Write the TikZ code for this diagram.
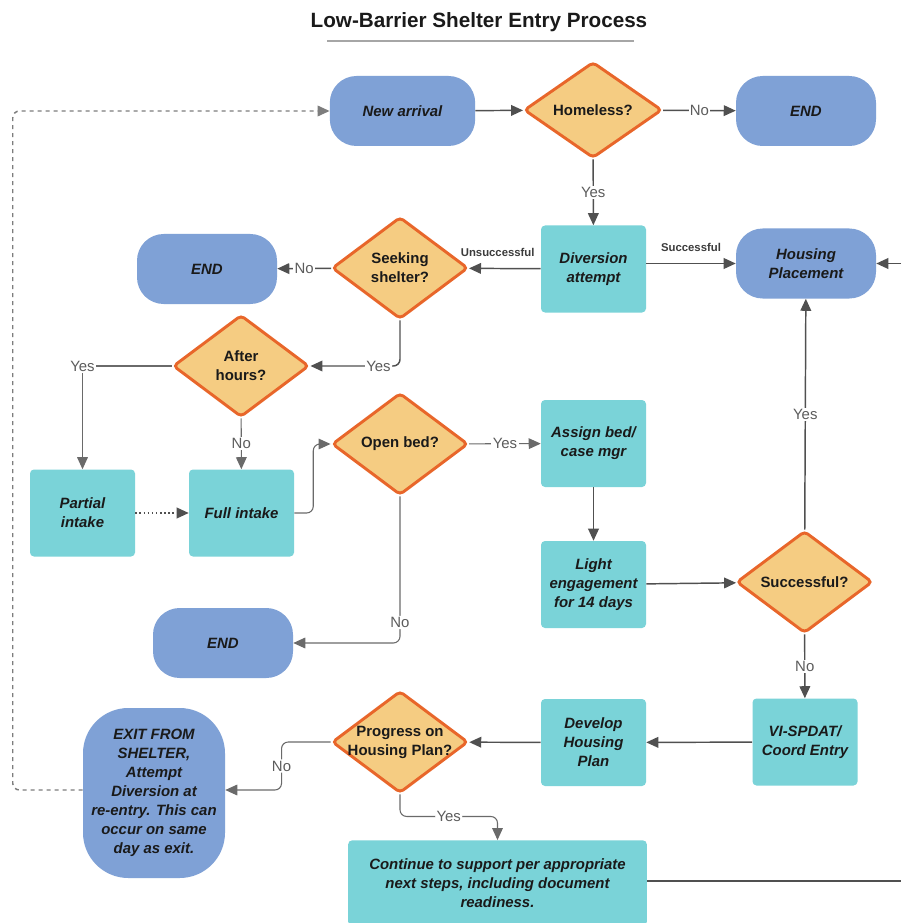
\documentclass[tikz,border=0pt]{standalone}
\usepackage{fontspec}
\setmainfont{Liberation Sans}
\usepackage{xcolor}
\usetikzlibrary{shapes.geometric,arrows.meta,positioning}
\definecolor{shelterBlue}{HTML}{7FA1D6}
\definecolor{shelterTeal}{HTML}{7AD3D8}
\definecolor{shelterSand}{HTML}{F5CC82}
\definecolor{shelterRim}{HTML}{E8662A}
\definecolor{shelterInk}{HTML}{1A1A1A}
\definecolor{shelterLine}{HTML}{505050}
\definecolor{shelterGrey}{HTML}{5C5C5C}
\newcommand\nodefont{\fontsize{11.2}{14.2}\selectfont}
\newcommand\smallfont{\fontsize{8.5}{10}\selectfont}

\tikzset{
  terminal/.style={fill=shelterBlue, rounded corners=20pt, minimum width=105pt,
    minimum height=52.5pt, align=center, text=shelterInk,
    font=\nodefont\bfseries\itshape},
  process/.style={fill=shelterTeal, rounded corners=3pt, minimum width=78.75pt,
    minimum height=65.25pt, inner sep=1pt, align=center, text=shelterInk,
    font=\nodefont\bfseries\itshape},
  decision/.style={diamond, draw=shelterRim, line width=2.2pt, fill=shelterSand,
    rounded corners=3pt, minimum width=102pt, minimum height=76.5pt,
    inner sep=0pt, align=center, text=shelterInk, font=\nodefont\bfseries},
  flow/.style={draw=shelterLine, line width=1.1pt,
    -{Triangle[length=9pt,width=8pt]}},
  thinflow/.style={flow, line width=0.8pt, draw=shelterLine!85},
  lbl/.style={fill=white, inner sep=1pt, text=shelterGrey, font=\nodefont},
  note/.style={inner sep=1pt, text=shelterInk!85, font=\smallfont\bfseries},
}

\begin{document}
\begin{tikzpicture}[x=0.75pt,y=-0.75pt]
  \useasboundingbox (0,0) rectangle (901,923);
  \fill[white] (0,0) rectangle (901,923);
  % Title
  \node[font=\fontsize{15.5}{18}\selectfont\bfseries, text=shelterInk] (title)
    at (479,22) {Low-Barrier Shelter Entry Process};
  \draw[gray!70, line width=1.5pt] (327,41) -- (634,41);
  % Top row
  \node[terminal, minimum width=109pt] (arrival) at (402.5,111) {New arrival};
  \node[decision, minimum width=103.5pt, minimum height=72pt] (homeless)
    at (593,110) {Homeless?};
  \node[terminal] (endTop) at (806,111) {END};
  % Diversion row
  \node[process] (diversion) at (593.5,269) {Diversion\\attempt};
  \node[terminal] (placement) at (806,263.5) {Housing\\Placement};
  \node[decision] (seeking) at (400,268) {Seeking\\shelter?};
  \node[terminal] (endLeft) at (207,269) {END};
  % Intake
  \node[decision] (afterhours) at (241,366) {After\\hours?};
  \node[process] (partial) at (82.5,513) {Partial\\intake};
  \node[process] (full) at (241.5,513) {Full intake};
  \node[decision] (openbed) at (400,444) {Open bed?};
  \node[terminal] (endMid) at (223,643) {END};
  % Engagement
  \node[process] (assign) at (593.5,443.5) {Assign bed/\\case mgr};
  \node[process] (engage) at (593.5,584.5) {Light\\engagement\\for 14 days};
  \node[decision] (success) at (804.5,582) {Successful?};
  % Housing plan
  \node[process] (vispdat) at (805,742) {VI-SPDAT/\\Coord Entry};
  \node[process] (develop) at (593.5,742.5) {Develop\\Housing\\Plan};
  \node[decision, inner xsep=-11pt, inner ysep=-4pt] (progress) at (400,742)
    {Progress on\\Housing Plan?};
  \node[terminal, rounded corners=34pt, minimum width=106.5pt,
    minimum height=127.5pt] (exit) at (154,793)
    {EXIT FROM\\SHELTER,\\Attempt\\Diversion at\\re-entry. This can\\occur on same\\day as exit.};
  \node[process, minimum width=224pt, minimum height=64pt] (support)
    at (497.5,883)
    {Continue to support per appropriate\\next steps, including document\\readiness.};
  % Free ends at the right border
  \coordinate (edgeTop) at (901,263.5);
  \coordinate (edgeBottom) at (901,881);

  % Connectors
  \draw[flow] (arrival) -- (homeless);
  \draw[flow] (homeless) -- node[lbl]{No} (endTop);
  \draw[flow] (homeless) -- node[lbl]{Yes} (diversion);
  \draw[flow] (diversion.east |- placement) -- node[note, above=7pt]{Successful} (placement);
  \draw[flow] (diversion) -- node[note, above=7pt, pos=0.6]{Unsuccessful} (seeking);
  \draw[flow] (seeking) -- node[lbl]{No} (endLeft);
  \draw[flow, rounded corners=5pt] (seeking.south) |- node[lbl, pos=0.62]{Yes}
    (afterhours.east);
  \draw[thinflow] (afterhours.west) -| node[lbl, pos=0.5]{Yes} (partial.north);
  \draw[thinflow] (afterhours) -- node[lbl]{No} (full);
  \draw[flow, dotted] (partial) -- (full);
  \draw[thinflow, rounded corners=5pt] (full.east) -- ++(19,0) |- (openbed.west);
  \draw[thinflow] (openbed) -- node[lbl]{Yes} (assign);
  \draw[thinflow, rounded corners=5pt] (openbed.south) |- node[lbl, pos=0.43]{No}
    (endMid.east);
  \draw[flow] (assign) -- (engage);
  \draw[flow] (engage) -- (success);
  \draw[flow] (success) -- node[lbl]{Yes} (placement);
  \draw[flow] (success) -- node[lbl]{No} (vispdat);
  \draw[flow] (vispdat) -- (develop);
  \draw[flow] (develop) -- (progress);
  \draw[thinflow, rounded corners=5pt] (progress.west) -- ++(-49,0)
    |- node[lbl, pos=0.25]{No} (exit.east |- 0,790);
  \draw[thinflow, rounded corners=5pt] (progress.south) -- ++(0,22)
    -| node[lbl, pos=0.25]{Yes} (support.north);
  \draw[flow, dashed, draw=shelterGrey!80, rounded corners=5pt]
    (exit.west |- 0,790) -- ++(-70,0) |- (arrival.west);
  \draw[flow, -] (support.east |- edgeBottom) -- (edgeBottom);
  \draw[flow] (edgeTop) -- (placement);
\end{tikzpicture}
\end{document}
